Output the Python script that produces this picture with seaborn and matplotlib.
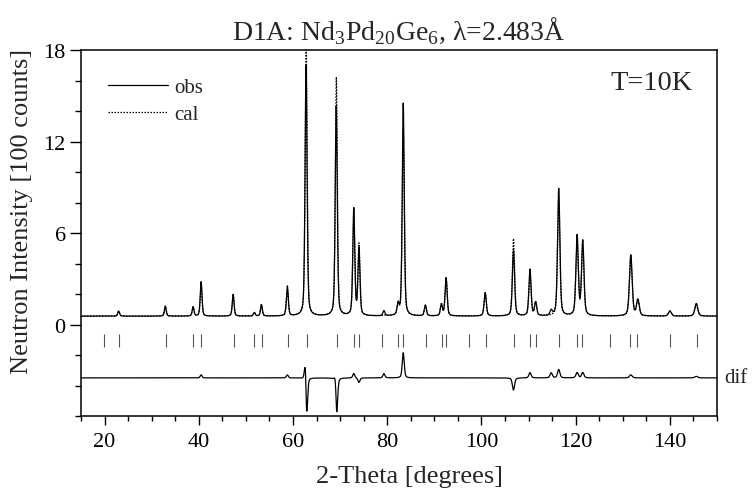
import matplotlib
matplotlib.use('Agg')
import matplotlib.pyplot as plt
import matplotlib.transforms as mtransforms
from matplotlib.ticker import MultipleLocator
import numpy as np
import pandas as pd
import seaborn as sns

# Bragg peaks: position (2-theta, deg), heights above
# background [100 counts] for observed and calculated profiles, and FWHM (deg)
peak_pos = [23.0, 32.9, 38.8, 40.5, 47.3, 51.8, 53.3, 58.8, 62.8, 69.2,
            72.9, 74.0, 79.3, 82.3, 83.4, 88.1, 91.5, 92.5, 100.8, 106.8,
            110.3, 111.5, 114.8, 116.4, 120.3, 121.5, 131.7, 133.2, 140.0, 145.6]
obs_height = [0.33, 0.65, 0.60, 2.25, 1.42, 0.23, 0.75, 1.95, 16.5, 13.85,
              7.0, 4.35, 0.33, 0.70, 13.95, 0.70, 0.75, 2.50, 1.53, 4.27,
              3.05, 0.88, 0.33, 8.35, 5.22, 4.87, 4.00, 1.05, 0.33, 0.83]
cal_height = [0.33, 0.65, 0.60, 2.05, 1.42, 0.23, 0.75, 1.75, 17.65, 15.65,
              6.70, 4.65, 0.05, 0.70, 12.30, 0.70, 0.75, 2.50, 1.53, 5.07,
              2.70, 0.88, 0.00, 7.80, 4.87, 4.52, 3.80, 1.05, 0.33, 0.73]
# small shift of the observed peak vs. calculated one (deg)
obs_shift = [0, 0, 0, 0, 0, 0, 0, 0, -0.03, -0.02,
             0, 0, 0, 0, 0, 0, 0, 0, 0, 0,
             0, 0, 0, 0, 0, 0, 0, 0, 0, 0]
peak_fwhm = [0.45, 0.45, 0.45, 0.45, 0.45, 0.45, 0.45, 0.48, 0.50, 0.50,
             0.50, 0.50, 0.50, 0.50, 0.50, 0.52, 0.52, 0.52, 0.55, 0.55,
             0.55, 0.55, 0.58, 0.58, 0.60, 0.60, 0.68, 0.68, 0.72, 0.75]
background = 0.55
diff_offset = -3.5

# reflection markers (2-theta, deg)
refl_pos = [19.8, 23.1, 33.0, 38.8, 40.5, 47.4, 51.8, 53.4, 58.9, 62.9,
            69.3, 72.9, 74.0, 78.9, 82.3, 83.4, 88.2, 91.6, 92.4, 97.3,
            100.9, 106.9, 110.4, 111.5, 116.4, 120.3, 121.4, 127.3, 131.6,
            133.0, 140.0, 145.7]


def pseudo_voigt(x, pos, height, fwhm, eta=0.4):
    d = (x - pos) / (fwhm / 2)
    g = np.exp(-np.log(2) * d**2)
    l = 1 / (1 + d**2)
    return height * (eta * l + (1 - eta) * g)


tth = np.arange(15, 150.001, 0.05)
obs = np.full_like(tth, background)
cal = np.full_like(tth, background)
for p, ho, hc, sh, w in zip(peak_pos, obs_height, cal_height, obs_shift, peak_fwhm):
    obs += pseudo_voigt(tth, p + sh, ho, w)
    cal += pseudo_voigt(tth, p, hc, w)
df = pd.DataFrame({'tth': tth, 'obs': obs, 'cal': cal,
                   'dif': obs - cal + diff_offset})

sns.set_style('ticks')
plt.rcParams['font.family'] = ['Liberation Serif', 'DejaVu Serif']
plt.rcParams['mathtext.fontset'] = 'custom'
plt.rcParams['mathtext.rm'] = 'Liberation Serif'

fig = plt.figure(figsize=(7.52, 4.89), dpi=100, facecolor='white')
ax = fig.add_axes([0.1077, 0.1472, 0.8458, 0.7485])

sns.lineplot(data=df, x='tth', y='cal', ax=ax, color='black', lw=0.9,
             linestyle=(0, (1.2, 1.2)), label='cal')
sns.lineplot(data=df, x='tth', y='obs', ax=ax, color='black', lw=0.9, label='obs')
sns.lineplot(data=df, x='tth', y='dif', ax=ax, color='black', lw=0.9)
ax.vlines(refl_pos, -0.65, -1.45, color='#555555', lw=0.8)

ax.set_xlim(15, 150)
ax.set_ylim(-6, 18)
ax.xaxis.set_major_locator(MultipleLocator(20))
ax.xaxis.set_minor_locator(MultipleLocator(5))
ax.yaxis.set_major_locator(MultipleLocator(6))
ax.yaxis.set_minor_locator(MultipleLocator(2))
ax.set_yticks([0, 6, 12, 18])
ax.tick_params(axis='both', which='both', direction='out', width=1.0,
               colors='black', labelsize=16)
ax.tick_params(axis='y', which='major', length=8, pad=3)
ax.tick_params(axis='y', which='minor', length=4.3)
ax.tick_params(axis='x', which='major', length=6.5, pad=5)
ax.tick_params(axis='x', which='minor', length=3.6)
for s in ax.spines.values():
    s.set_linewidth(1.1)
    s.set_color('black')

ax.set_xlabel('2-Theta [degrees]', fontsize=19)
ax.xaxis.set_label_coords(0.517, -0.135)
ax.set_ylabel('Neutron Intensity [100 counts]', fontsize=19)
ax.yaxis.set_label_coords(-0.076, 0.563)
ax.set_title('D1A: Nd$_3$Pd$_{20}$Ge$_6$, λ=2.483Å', fontsize=20, pad=8)

handles, labels = ax.get_legend_handles_labels()
order = [labels.index('obs'), labels.index('cal')]
ax.legend([handles[i] for i in order], [labels[i] for i in order],
          loc='upper left', bbox_to_anchor=(0.042, 0.925), frameon=False,
          fontsize=15, handlelength=2.9, handletextpad=0.3,
          labelspacing=0.35, borderpad=0, borderaxespad=0)

ax.text(0.962, 0.91, 'T=10K', transform=ax.transAxes, ha='right', va='center',
        fontsize=20.5)
trans = mtransforms.blended_transform_factory(ax.transAxes, ax.transData)
ax.text(1.012, diff_offset, 'dif', transform=trans, ha='left', va='center',
        fontsize=15)

fig.savefig('out.png', dpi=100, facecolor='white')
